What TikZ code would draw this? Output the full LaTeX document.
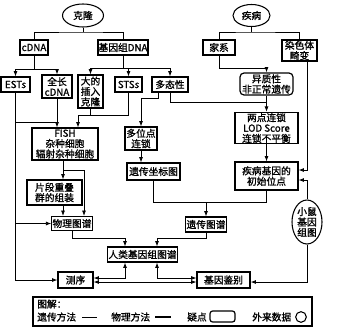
\documentclass[tikz,border=0pt]{standalone}
\usepackage{fontspec}
\setmainfont{Noto Sans CJK SC}[FakeBold=1.2]
\usetikzlibrary{positioning,arrows.meta,calc,shapes.geometric}
\tikzset{
  box/.style={draw, line width=0.9pt, inner sep=0.5pt, align=center, font=\fontsize{7.3}{7.8}\selectfont},
  doubt/.style={box, rounded corners=3pt},
  sz/.style 2 args={minimum width=#1*0.75pt, minimum height=#2*0.75pt},
  oval/.style={ellipse, draw, line width=0.8pt, inner sep=0pt, align=center, font=\fontsize{7.3}{7.8}\selectfont},
  link/.style={line width=0.6pt},
  arr/.style={link, -{Latex[length=4pt,width=3pt]}},
  arrs/.style={link, {Latex[length=4pt,width=3pt]}-{Latex[length=4pt,width=3pt]}},
  legtext/.style={anchor=west, inner sep=0pt, font=\fontsize{7.3}{7.8}\selectfont},
}

\begin{document}
\begin{tikzpicture}[x=0.75pt, y=-0.75pt]
  \useasboundingbox (0,0) rectangle (338,328);

  % cloning side
  \node[oval, sz={41}{23}] (clone) at (83,15.5) {克隆};
  \node[box, sz={28}{15}] (cdna) at (34,47.5) {cDNA};
  \node[box, sz={50}{15}] (genome) at (123,47.5) {基因组DNA};
  \node[box, sz={29}{15}] (ests) at (15.5,84.5) {ESTs};
  \node[box, sz={30}{23}] (fullc) at (57,86.5) {全长\\cDNA};
  \node[box, sz={25}{33}] (large) at (90.5,91.5) {大的\\插入\\克隆};
  \node[box, sz={27}{15}] (sts) at (128.5,84.5) {STSs};
  \node[box, sz={36}{15}] (poly) at (170,84.5) {多态性};
  \node[box, sz={66}{32}] (fish) at (65,144) {FISH\\杂种细胞\\辐射杂种细胞};
  \node[box, sz={55}{25}] (frag) at (54.5,192.5) {片段重叠\\群的组装};
  \node[box, sz={40}{14}] (phys) at (72,223.5) {物理图谱};

  % disease side
  \node[oval, sz={37}{22}] (disease) at (251.5,15.5) {疾病};
  \node[box, sz={32}{15}] (family) at (219,47.5) {家系};
  \node[box, sz={35}{21}] (chrom) at (299.5,50.5) {染色体\\畸变};
  \node[doubt, sz={53}{22}] (hetero) at (266.5,84) {异质性\\非正常遗传};
  \node[box, sz={63}{30}] (twopt) at (266.5,128) {两点连锁\\LOD Score\\连锁不平衡};
  \node[box, sz={63}{28}] (init) at (266.5,176) {疾病基因的\\初始位点};
  \node[box, sz={32}{23}] (multi) at (141,138.5) {多位点\\连锁};
  \node[box, sz={53}{17}] (coord) at (153.5,171.5) {遗传坐标图};
  \node[box, sz={38}{15}] (genmap) at (206,224.5) {遗传图谱};
  \node[oval, sz={30}{44}] (mouse) at (307,222) {小鼠\\基因\\组图};

  % bottom row
  \node[box, sz={69}{15}] (human) at (142.5,254.5) {人类基因组图谱};
  \node[box, sz={35}{16}] (seq) at (75.5,280) {测序};
  \node[box, sz={53}{16}] (geneid) at (223.5,280) {基因鉴别};

  % junction points
  \coordinate (cj) at (83,32);
  \coordinate (dj) at (251.5,32);
  \coordinate (cdj) at (34,69);
  \coordinate (gj) at (123,68);
  \coordinate (fj) at (266.5,68);
  \coordinate (pj) at (266.5,102);
  \coordinate (mj) at (158,98);
  \coordinate (ej) at (15.5,122);
  \coordinate (lj) at (78,115);
  \coordinate (fj2) at (63,170);
  \coordinate (px) at (84,0);
  \coordinate (hj) at (125,238);
  \coordinate (gj2) at (157,238);
  \coordinate (cj2) at (206,202);

  % trees from the two ovals
  \draw[link] (clone) -- (cj);
  \draw[link] (cdna) |- (cj) -| (genome);
  \draw[link] (disease) -- (dj);
  \draw[link] (family) |- (dj) -| (chrom);

  % physical branch
  \draw[link] (cdna) -- (cdj);
  \draw[arr] (cdj) -| (ests);
  \draw[arr] (cdj) -| (fullc);
  \draw[link] (genome) -- (gj);
  \draw[arr] (gj) -| (large);
  \draw[arr] (gj) -| (sts);
  \draw[arr] (gj) -| (poly);
  \draw[link] (ests) -- (ej);
  \draw[link] (ej) -- (ej -| fullc);
  \draw[arr] (fullc) -- (fullc |- fish.north);
  \draw[arr] (ej) |- (phys);
  \draw[arr] (ej) |- (seq);
  \draw[arr] (sts) |- (lj) -- (lj |- fish.north);
  \draw[link] (large) -- (large |- lj);
  \draw[link] (fish.south -| fj2) -- (fj2);
  \draw[arr] (fj2) -- (fj2 |- frag.north);
  \draw[arr] (fj2) -| (phys.north -| px);
  \draw[arr] (frag.south -| fj2) -- (phys.north -| fj2);

  % genetic branch
  \draw[arr] (family.south) |- (fj) -- (hetero);
  \draw[arr] (hetero) -- (twopt);
  \draw[link] (poly) |- (pj);
  \draw[arr] (poly.south -| mj) -- (mj) -| (multi);
  \draw[arr] (twopt) -- (init);
  \draw[arr] (chrom.south -| mouse) |- ($(init.east)+(0,-6)$);
  \draw[arr] (mouse) |- ($(init.east)+(0,4)$);
  \draw[arr] (mouse) |- ($(geneid.east)+(0,2)$);
  \draw[arr] (multi) -- (multi |- coord.north);
  \draw[arr] (coord) |- (cj2) -- (genmap);
  \draw[link] (init) |- (cj2);

  % into the human map
  \draw[arr] (phys) |- (hj) -- (human.north -| hj);
  \draw[arr] (genmap) |- (gj2) -- (human.north -| gj2);
  \draw[arrs] (human.south -| hj) |- ($(seq.east)+(0,-2)$);
  \draw[arrs] (human.south -| gj2) |- ($(geneid.west)+(0,-2)$);
  \draw[arrs] ($(seq.east)+(0,2)$) -- ($(geneid.west)+(0,2)$);

  % legend
  \draw[line width=0.8pt] (33,297) rectangle (312,326);
  \node[legtext] (legtitle) at (37,304) {图解：};
  \node[legtext] (leggen) at (37,317) {遗传方法};
  \draw[link] (82,317) -- (97,317);
  \node[legtext] (legphys) at (111,317) {物理方法};
  \draw[line width=1pt] (155,317) -- (171,317);
  \node[legtext] (legdoubt) at (187,317) {疑点};
  \draw[line width=0.9pt, rounded corners=2pt] (210,311) rectangle (235,322);
  \node[legtext] (legext) at (252,317) {外来数据};
  \draw[line width=0.8pt] (301,317) circle[radius=4pt];
\end{tikzpicture}
\end{document}
